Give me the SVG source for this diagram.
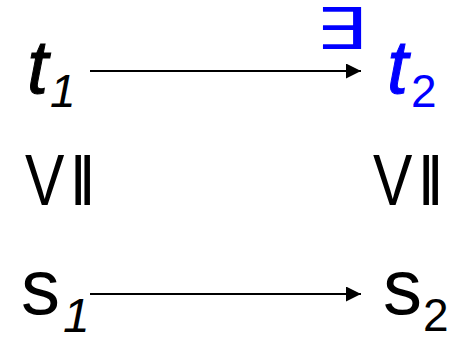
<svg xmlns="http://www.w3.org/2000/svg" width="458" height="338" viewBox="0 0 458 338">
<style>
.m{font-family:"Liberation Sans",Arial,sans-serif;fill:#000}
.b{fill:#0000ff}
.it{font-style:italic}
.big{font-size:76px}
.thick{stroke:#000;stroke-width:1}
.thick.b{stroke:#0000ff}
.sbig{font-size:78px}
.sub{font-size:46px}
.rel{font-family:"Liberation Sans",Arial,sans-serif;font-size:72px;fill:#000}
.conn{stroke:#000;stroke-width:2;fill:none}
</style>
<defs>
<marker id="ah" markerUnits="userSpaceOnUse" markerWidth="15" markerHeight="15" refX="15" refY="7.5" orient="auto">
<path d="M0,0 L15,7.5 L0,15 z" fill="#000"/>
</marker>
</defs>
<rect width="458" height="338" fill="#fff"/>
<g id="connectors">
<line class="conn" x1="90" y1="71" x2="361" y2="71" marker-end="url(#ah)"/>
<line class="conn" x1="90" y1="294" x2="361" y2="294" marker-end="url(#ah)"/>
</g>
<g id="t1">
<text class="m it big thick" x="27" y="93">t</text>
<text class="m it sub" x="50" y="107">1</text>
</g>
<g id="exists">
<text transform="translate(315,49) scale(1.4,1)" x="0" y="0" style="font-family:'DejaVu Sans',sans-serif;font-size:58px;fill:#0000ff">∃</text>
</g>
<g id="t2">
<text class="m it big b thick" x="387" y="93">t</text>
<text class="m sub b" x="411" y="107">2</text>
</g>
<g id="rel1">
<text class="rel" transform="translate(25,205) scale(0.82,1)" x="0 55 66">VII</text>
</g>
<g id="rel2">
<text class="rel" transform="translate(373,205) scale(0.82,1)" x="0 55 66">VII</text>
</g>
<g id="s1">
<text class="m sbig" x="21" y="314">s</text>
<text class="m it sub" x="63" y="332" style="font-size:48px">1</text>
</g>
<g id="s2">
<text class="m sbig" x="383" y="314">s</text>
<text class="m sub" x="423" y="331">2</text>
</g>
</svg>
